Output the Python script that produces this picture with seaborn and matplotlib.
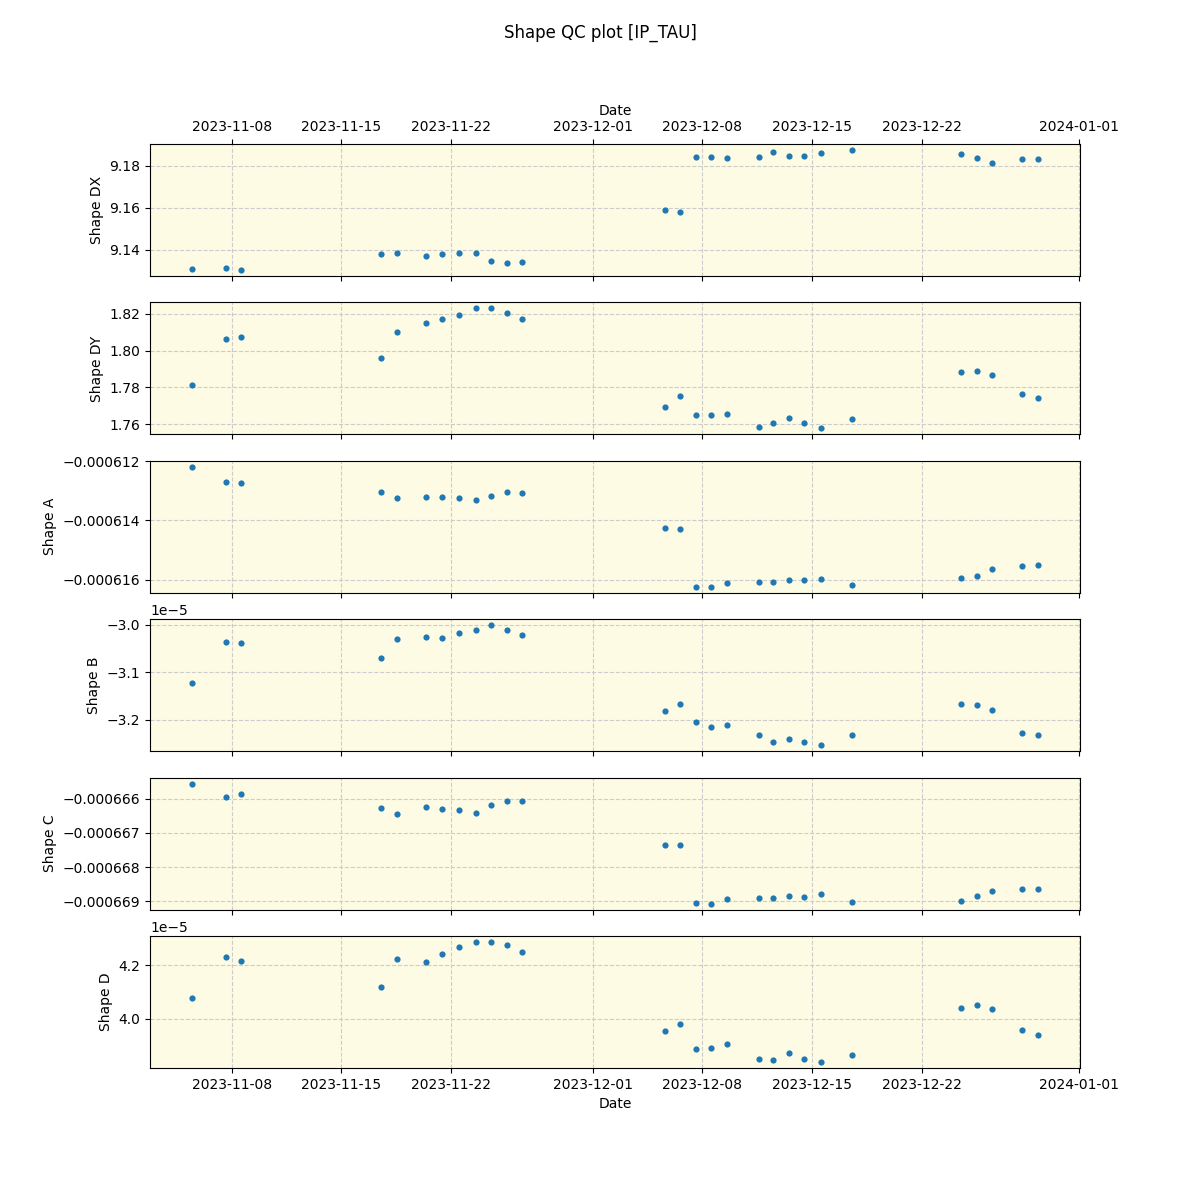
import matplotlib
matplotlib.use("Agg")
import matplotlib.pyplot as plt
import pandas as pd
import seaborn as sns

# observation times
dates = [
    "2023-11-05 11:45", "2023-11-07 14:40", "2023-11-08 14:00",
    "2023-11-17 13:00", "2023-11-18 13:00", "2023-11-20 10:00",
    "2023-11-21 10:00", "2023-11-22 12:30", "2023-11-23 13:00",
    "2023-11-24 13:00", "2023-11-25 13:00", "2023-11-26 12:30",
    "2023-12-05 14:30", "2023-12-06 14:00", "2023-12-07 14:00",
    "2023-12-08 12:30", "2023-12-09 14:00", "2023-12-11 14:00",
    "2023-12-12 12:30", "2023-12-13 13:00", "2023-12-14 12:00",
    "2023-12-15 13:00", "2023-12-17 12:30", "2023-12-24 12:00",
    "2023-12-25 12:00", "2023-12-26 11:00", "2023-12-28 09:30",
    "2023-12-29 09:00",
]

shape_dx = [
    9.1310, 9.1314, 9.1305, 9.1380, 9.1386, 9.1371, 9.1380, 9.1386,
    9.1386, 9.1348, 9.1338, 9.1343, 9.1589, 9.1579, 9.1841, 9.1841,
    9.1837, 9.1841, 9.1865, 9.1846, 9.1846, 9.1860, 9.1875, 9.1856,
    9.1837, 9.1813, 9.1832, 9.1832,
]

shape_dy = [
    1.7811, 1.8065, 1.8076, 1.7962, 1.8100, 1.8148, 1.8170, 1.8192,
    1.8230, 1.8230, 1.8204, 1.8170, 1.7696, 1.7756, 1.7652, 1.7652,
    1.7658, 1.7587, 1.7604, 1.7636, 1.7609, 1.7577, 1.7626, 1.7882,
    1.7887, 1.7865, 1.7762, 1.7745,
]

shape_a = [
    -0.00061219, -0.00061269, -0.00061273, -0.00061303, -0.00061323,
    -0.00061320, -0.00061320, -0.00061323, -0.00061330, -0.00061317,
    -0.00061303, -0.00061307, -0.00061425, -0.00061428, -0.00061624,
    -0.00061624, -0.00061610, -0.00061607, -0.00061607, -0.00061600,
    -0.00061600, -0.00061597, -0.00061617, -0.00061593, -0.00061587,
    -0.00061563, -0.00061553, -0.00061550,
]

shape_b = [
    -3.1217e-5, -3.0364e-5, -3.0385e-5, -3.0701e-5, -3.0301e-5,
    -3.0259e-5, -3.0280e-5, -3.0175e-5, -3.0112e-5, -3.0006e-5,
    -3.0112e-5, -3.0217e-5, -3.1817e-5, -3.1669e-5, -3.2048e-5,
    -3.2154e-5, -3.2112e-5, -3.2322e-5, -3.2469e-5, -3.2406e-5,
    -3.2469e-5, -3.2533e-5, -3.2322e-5, -3.1669e-5, -3.1691e-5,
    -3.1796e-5, -3.2280e-5, -3.2322e-5,
]

shape_c = [
    -0.00066556, -0.00066594, -0.00066585, -0.00066626, -0.00066644,
    -0.00066623, -0.00066629, -0.00066632, -0.00066641, -0.00066618,
    -0.00066606, -0.00066606, -0.00066735, -0.00066735, -0.00066904,
    -0.00066907, -0.00066895, -0.00066892, -0.00066892, -0.00066886,
    -0.00066889, -0.00066880, -0.00066901, -0.00066898, -0.00066886,
    -0.00066869, -0.00066863, -0.00066863,
]

shape_d = [
    4.0778e-5, 4.2296e-5, 4.2148e-5, 4.1185e-5, 4.2222e-5, 4.2111e-5,
    4.2407e-5, 4.2667e-5, 4.2852e-5, 4.2852e-5, 4.2741e-5, 4.2481e-5,
    3.9556e-5, 3.9815e-5, 3.8889e-5, 3.8926e-5, 3.9074e-5, 3.8519e-5,
    3.8481e-5, 3.8741e-5, 3.8519e-5, 3.8407e-5, 3.8667e-5, 4.0407e-5,
    4.0519e-5, 4.0370e-5, 3.9593e-5, 3.9407e-5,
]

panels = ["Shape DX", "Shape DY", "Shape A", "Shape B", "Shape C", "Shape D"]

df = pd.DataFrame({
    "Date": pd.to_datetime(dates),
    "Shape DX": shape_dx,
    "Shape DY": shape_dy,
    "Shape A": shape_a,
    "Shape B": shape_b,
    "Shape C": shape_c,
    "Shape D": shape_d,
})

fig, axes = plt.subplots(6, 1, figsize=(12, 12), sharex=True)
fig.suptitle("Shape QC plot [IP_TAU]")

for ax, col in zip(axes, panels):
    sns.scatterplot(data=df, x="Date", y=col, ax=ax, s=20, color="#1f77b4",
                    linewidth=0)
    ax.set_facecolor("#fdfbe3")
    ax.grid(True, linestyle="--", color="#cccccc", linewidth=0.8)
    ax.set_axisbelow(True)
    ax.set_ylabel(col)
    ax.set_xlabel("")

# date labels on top of the first panel as well
axes[0].tick_params(axis="x", top=True, labeltop=True)
axes[0].xaxis.set_label_position("top")
axes[0].set_xlabel("Date")
axes[0].xaxis.label.set_visible(True)
axes[-1].set_xlabel("Date")

fig.savefig("out.png", dpi=100)
plt.close(fig)
